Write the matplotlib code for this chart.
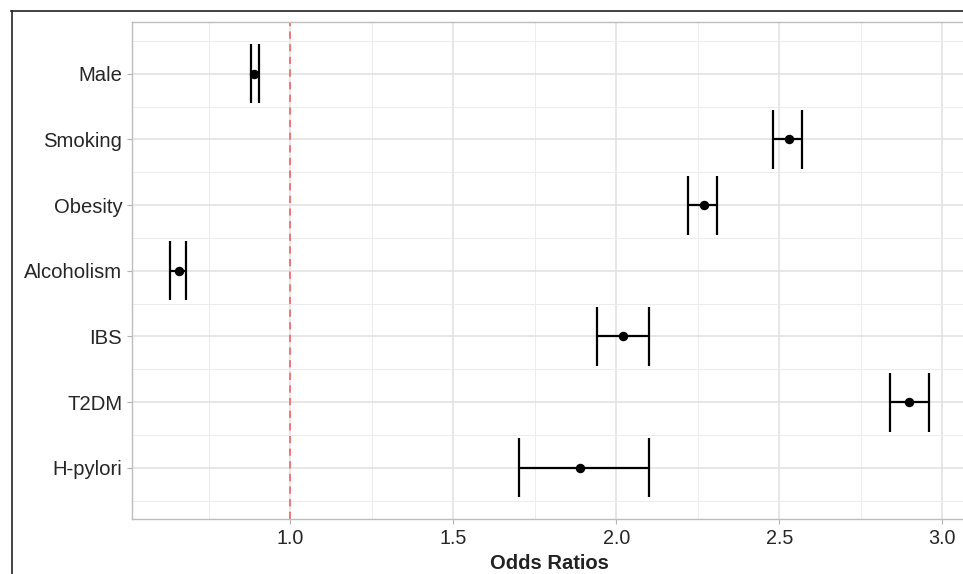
import matplotlib
matplotlib.use("Agg")
import matplotlib.pyplot as plt
from matplotlib.lines import Line2D

plt.rcParams['font.family'] = ['Liberation Sans', 'DejaVu Sans']

factors = ["Male", "Smoking", "Obesity", "Alcoholism", "IBS", "T2DM", "H-pylori"]
odds_ratio = [0.890, 2.529, 2.269, 0.660, 2.020, 2.899, 1.890]
ci_lower = [0.879, 2.480, 2.221, 0.631, 1.940, 2.840, 1.701]
ci_upper = [0.903, 2.570, 2.310, 0.680, 2.099, 2.960, 2.100]
x_ticks = [1.0, 1.5, 2.0, 2.5, 3.0]
x_tick_labels = ["1.0", "1.5", "2.0", "2.5", "3.0"]
x_label = "Odds Ratios"
ref_value = 1.0

W, H = 963, 574
fig = plt.figure(figsize=(W / 100, H / 100), dpi=100)

# panel position in pixels (panel extends slightly past the right edge, as in the cropped original)
left_px, right_px, top_px, bottom_px = 132, 967.2, 22.3, 519.3
ax = fig.add_axes([left_px / W, (H - bottom_px) / H,
                   (right_px - left_px) / W, (bottom_px - top_px) / H])

n = len(factors)
ypos = [n - i for i in range(n)]

# ggplot-like limits
lo, hi = min(ci_lower), max(ci_upper)
pad = 0.05 * (hi - lo)
ax.set_xlim(lo - pad, hi + pad)
ax.set_ylim(1 - 0.785, n + 0.785)

# grid
grid_major = '#e0e0e0'
grid_minor = '#ececec'
for xv in x_ticks:
    ax.axvline(xv, color=grid_major, lw=1.1, zorder=0)
for xv in [0.75, 1.25, 1.75, 2.25, 2.75]:
    ax.axvline(xv, color=grid_minor, lw=0.7, zorder=0)
for yv in ypos:
    ax.axhline(yv, color=grid_major, lw=1.1, zorder=0)
for k in range(n + 1):
    ax.axhline(k + 0.5, color=grid_minor, lw=0.7, zorder=0)

# reference line
ax.axvline(ref_value, color='#f26d6d', lw=1.3, ls=(0, (4.0, 3.0)), zorder=1)

# error bars + points
for y, m, l, u in zip(ypos, odds_ratio, ci_lower, ci_upper):
    ax.plot([l, u], [y, y], color='black', lw=1.6, zorder=2, solid_capstyle='butt')
    ax.plot([l, l], [y - 0.45, y + 0.45], color='black', lw=1.6, zorder=2, solid_capstyle='butt')
    ax.plot([u, u], [y - 0.45, y + 0.45], color='black', lw=1.6, zorder=2, solid_capstyle='butt')
ax.plot(odds_ratio, ypos, 'o', color='black', ms=5.8, zorder=3)

ax.set_yticks(ypos)
ax.set_yticklabels(factors, fontsize=14.6, color='#262626')
ax.set_xticks(x_ticks)
ax.set_xticklabels(x_tick_labels, fontsize=14.2, color='#262626')
ax.tick_params(axis='both', length=3.6, width=0.8, color='#b3b3b3', pad=3.5)
ax.set_xlabel(x_label, fontsize=14.5, fontweight='bold', color='#222222', labelpad=4)

for s in ax.spines.values():
    s.set_color('#bdbdbd')
    s.set_linewidth(1.0)

# outer black frame (cropped in the original)
fig.add_artist(Line2D([11 / W, 1.0], [1 - 11 / H, 1 - 11 / H], color='#222222', lw=1.2,
                     transform=fig.transFigure))
fig.add_artist(Line2D([11.5 / W, 11.5 / W], [0, 1 - 11 / H], color='#222222', lw=1.2,
                      transform=fig.transFigure))

fig.savefig("out.png", dpi=100)
